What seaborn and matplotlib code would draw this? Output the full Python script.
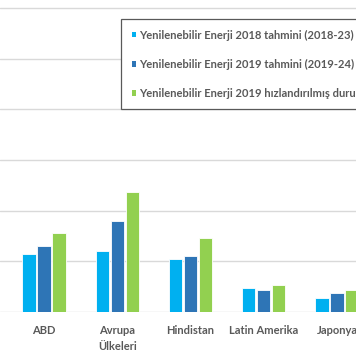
import matplotlib
matplotlib.use("Agg")
import matplotlib.pyplot as plt
import seaborn as sns
import pandas as pd
from matplotlib.patches import Patch

regions = ["ABD", "Avrupa\nÜlkeleri", "Hindistan", "Latin Amerika", "Japonya"]
series = [
    "Yenilenebilir Enerji 2018 tahmini (2018-23) (GW)",
    "Yenilenebilir Enerji 2019 tahmini (2019-24) (GW)",
    "Yenilenebilir Enerji 2019 hızlandırılmış durum (2019-24) (GW)",
]
forecast_2018 = [57, 60, 52, 24, 13.5]
forecast_2019 = [65, 90, 55, 22, 18.4]
accelerated_2019 = [78, 118, 73, 26.6, 21.4]
colors = ["#00B0F0", "#2E75B6", "#92D050"]

rows = []
for s, vals in zip(series, [forecast_2018, forecast_2019, accelerated_2019]):
    for r, v in zip(regions, vals):
        rows.append({"region": r, "series": s, "value": v})
df = pd.DataFrame(rows)

sns.set_theme(style="white")
plt.rcParams["font.family"] = ["Lato", "DejaVu Sans"]

fig = plt.figure(figsize=(3.56, 3.64), dpi=100)
ax = fig.add_axes([0, 52 / 364, 1, 312 / 364])

sns.barplot(data=df, x="region", y="value", hue="series", order=regions,
            hue_order=series, palette=colors, saturation=1, width=0.615, gap=0.12,
            edgecolor="white", linewidth=0.6, ax=ax, legend=False)

ax.set_xlim(-0.6007, 4.259)
ax.set_ylim(0, 300 * 312 / 304)
ax.set_yticks([0, 50, 100, 150, 200, 250, 300])
ax.yaxis.grid(True, color="#d9d9d9", linewidth=1)
ax.set_axisbelow(True)
for sp in ax.spines.values():
    sp.set_visible(False)
ax.set_xlabel("")
ax.set_ylabel("")
ax.tick_params(axis="y", left=False, labelleft=False)
ax.tick_params(axis="x", bottom=False, pad=3)
for lab in ax.get_xticklabels():
    lab.set_fontsize(8)
    lab.set_fontweight("bold")
    lab.set_color("#595959")
    lab.set_linespacing(1.65)
    lab.set_verticalalignment("top")

handles = [Patch(facecolor=c, edgecolor="none") for c in colors]
leg = fig.legend(handles, series, loc="upper left", bbox_to_anchor=(121 / 356, 1 - 19 / 364),
                 frameon=True, fancybox=False, handlelength=0.42,
                 handleheight=0.42, handletextpad=0.25, labelspacing=1.62,
                 borderpad=0.95, borderaxespad=0, prop={"weight": "bold", "size": 8})
leg.get_frame().set_edgecolor("#595959")
leg.get_frame().set_linewidth(0.9)
leg.get_frame().set_alpha(1)
for t in leg.get_texts():
    t.set_color("#595959")

fig.savefig("out.png", dpi=100)
